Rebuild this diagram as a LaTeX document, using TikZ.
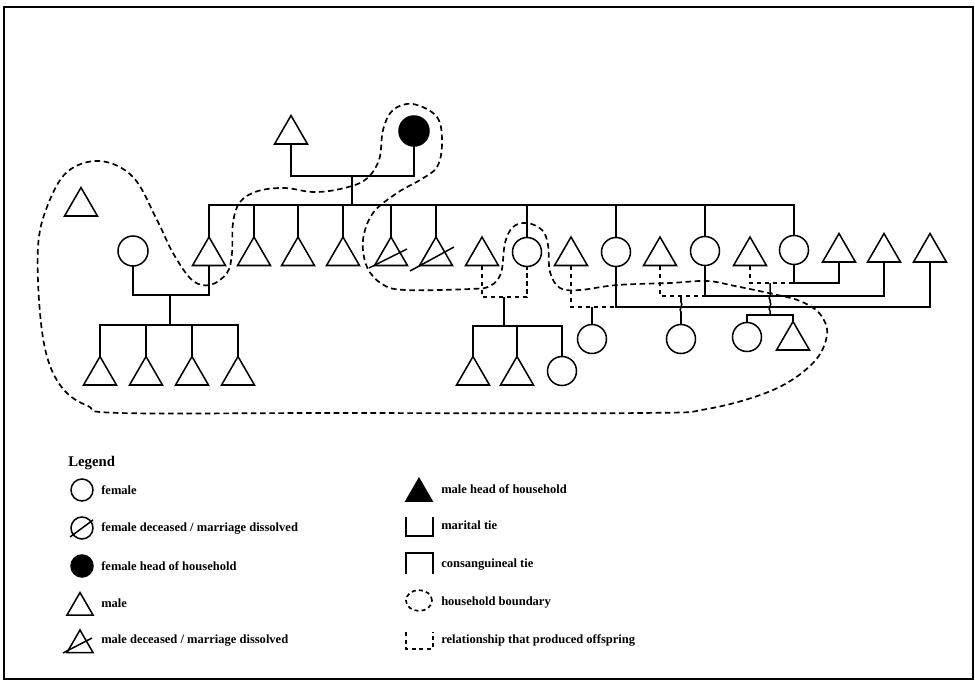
\documentclass[tikz,border=0pt]{standalone}
\usepackage{fontspec}
\setmainfont{Liberation Serif}
\usetikzlibrary{positioning, shapes.geometric, calc}

\begin{document}
\begin{tikzpicture}[
    x=0.25mm, y=-0.25mm,
    line/.style={draw, line width=0.38mm},
    rel/.style={line, dash pattern=on 1.2mm off 0.8mm},
    bound/.style={draw, line width=0.42mm, dash pattern=on 1.4mm off 0.9mm},
    male/.style={
        draw,
        line width=0.38mm,
        regular polygon,
        regular polygon sides=3,
        minimum size=9.5mm,
        inner sep=0pt,
        outer sep=0pt
    },
    female/.style={
        draw,
        line width=0.38mm,
        circle,
        minimum size=7.25mm,
        inner sep=0pt,
        outer sep=0pt
    },
    lmale/.style={male, minimum size=7.5mm},
    lfemale/.style={female, minimum size=5.5mm},
    txt/.style={anchor=west, inner sep=0pt, font=\fontsize{8.9}{10}\selectfont\bfseries}
]
\useasboundingbox (0,0) rectangle (975,682);
% Frame
\draw[line width=0.45mm] (4,7) rectangle (973,679);
% Parents
\node[male] (gf) at (291,134.5) {};
\node[female, fill=black, minimum size=7.5mm] (gm) at (414,131) {};
\coordinate (par) at (352,176);
\coordinate (sib) at (352,205);
% Lone male
\node[male] (lone) at (81,206.5) {};
% Sibling row
\node[female, minimum size=7.5mm] (w1) at (133,251) {};
\node[male] (s1) at (209,256) {};
\node[male] (s2) at (254,256) {};
\node[male] (s3) at (298,256) {};
\node[male] (s4) at (343,256) {};
\node[male] (s5) at (391,256) {};
\node[male] (s6) at (436,256) {};
\node[male] (h1) at (482,256) {};
\node[female] (d1) at (527,252) {};
\node[male] (h2) at (571,256) {};
\node[female] (d2) at (616,252) {};
\node[male] (h3) at (660,256) {};
\node[female] (d3) at (705,251) {};
\node[male] (h4) at (750,256) {};
\node[female] (d4) at (794,250) {};
\node[male] (h5) at (839,252.5) {};
\node[male] (h6) at (884,252.5) {};
\node[male] (h7) at (930,252.5) {};
% Children row
\coordinate (m1) at (170,295);
\coordinate (k1) at (170,325);
\node[male] (c1) at (100,375.5) {};
\node[male] (c2) at (146,375.5) {};
\node[male] (c3) at (192,375.5) {};
\node[male] (c4) at (238,375.5) {};
\coordinate (r1) at (504,297);
\coordinate (k2) at (504,326);
\node[male] (c5) at (473,375.5) {};
\node[male] (c6) at (517,375.5) {};
\node[female] (c7) at (562,371) {};
\coordinate (r2) at (592,307);
\node[female] (c8) at (592,339) {};
\coordinate (r3) at (681,296);
\node[female] (c9) at (681,339) {};
\coordinate (r4) at (770,283);
\coordinate (k4) at (770,315);
\node[female] (c10) at (747,337) {};
\node[male] (c11) at (793,340.5) {};
% Parents and siblings
\draw[line] (gf.south) |- (par) -| (gm.south);
\draw[line] (par) -- (sib);
\draw[line] (s1.north) |- (sib) -| (d4.north);
\foreach \n in {s2,s3,s4,s5,s6,d1,d2,d3}
    \draw[line] (\n.north) -- (\n.north |- sib);
% Deceased marks
\draw[line] ($(s5)+(-22,12)$) -- ($(s5)+(16,-7)$);
\draw[line] ($(s6)+(-26,15)$) -- ($(s6)+(18,-9)$);
% Marital ties and offspring
\draw[line] (w1.south) |- (m1) -| (s1.south);
\draw[line] (m1) -- (k1);
\draw[line] (c1.north) |- (k1) -| (c4.north);
\foreach \n in {c2,c3}
    \draw[line] (\n.north) -- (\n.north |- k1);
\draw[rel] (h1.south) |- (r1) -| (d1.south);
\draw[line] (r1) -- (k2);
\draw[line] (c5.north) |- (k2) -| (c7.north);
\draw[line] (c6.north) -- (c6.north |- k2);
\draw[line] (d2.south) -- (d2.south |- r2) -| (h7.south);
\draw[rel] (h2.south) |- (d2.south |- r2);
\draw[line] (r2) -- (c8.north);
\draw[line] (d3.south) -- (d3.south |- r3) -| (h6.south);
\draw[rel] (h3.south) |- (d3.south |- r3);
\draw[line] (r3) -- ++(0,6) .. controls +(3,2) and +(-3,-2) .. ++(0,10) -- (c9.north);
\draw[line] (d4.south) -- (d4.south |- r4) -| (h5.south);
\draw[rel] (h4.south) |- (d4.south |- r4);
\draw[line] (r4) -- ++(0,8) .. controls +(3,2) and +(-3,-2) .. ++(0,9) -- ++(0,2)
    .. controls +(3,2) and +(-3,-2) .. ++(0,9) -- (k4);
\draw[line] (c10.north) |- (k4) -| (c11.north);
% Household boundary
\draw[bound] plot[smooth cycle, tension=0.6] coordinates {
    (413,104) (437,117) (442,143) (437,167) (420,180) (397,193) (373,213)
    (363,240) (367,267) (382,284) (405,290) (470,289) (490,286) (501,273)
    (505,243) (513,227) (527,223) (542,230) (548,245) (550,272) (560,288)
    (580,290) (617,285) (670,283) (707,281) (735,286) (773,294) (800,301)
    (820,314) (827,335) (813,363) (773,390) (707,409) (640,413) (330,413)
    (120,413) (88,406) (64,390) (48,360) (40,313) (38,247) (47,207) (67,172)
    (100,161) (133,177) (157,220) (173,253) (192,280) (210,285) (227,273)
    (232,253) (233,223) (240,202) (258,191) (285,188) (313,192) (340,189)
    (365,180) (379,160) (383,130) (393,110)};
% Legend
\node[anchor=west, inner sep=0pt, font=\fontsize{10.5}{12}\selectfont\bfseries] (leg) at (68,463) {Legend};
\node[lfemale] (lf) at (82,490) {};
\node[txt] (tf) at (101,490) {female};
\node[lfemale] (ld) at (82,528) {};
\draw[line] ($(ld)+(-12,9)$) -- ($(ld)+(11,-8)$);
\node[txt] (td) at (101,528) {female deceased / marriage dissolved};
\node[lfemale, fill=black] (lh) at (82,566) {};
\node[txt] (th) at (101,566) {female head of household};
\node[lmale] (lm) at (80,607.5) {};
\node[txt] (tm) at (101,603) {male};
\node[lmale] (lx) at (80,645) {};
\draw[line] ($(lx)+(-17,8)$) -- ($(lx)+(12,-7)$);
\node[txt] (tx) at (101,641) {male deceased / marriage dissolved};
\node[lmale, fill=black] (lhm) at (419,493.5) {};
\node[txt] (thm) at (441,489) {male head of household};
\draw[line] (406,517) -- (406,536) -- (433,536) -- (433,517);
\node[txt] (tmt) at (441,525) {marital tie};
\draw[line] (406,574) -- (406,553) -- (433,553) -- (433,574);
\node[txt] (tct) at (441,565) {consanguineal tie};
\draw[bound, dash pattern=on 1mm off 0.8mm] (419,600.5) ellipse [x radius=3.25mm, y radius=2.6mm];
\node[txt] (thb) at (441,602) {household boundary};
\draw[rel, dash pattern=on 1mm off 0.9mm] (406,632) -- (406,649) -- (433,649) -- (433,632);
\node[txt] (tro) at (441,640) {relationship that produced offspring};
\end{tikzpicture}
\end{document}
